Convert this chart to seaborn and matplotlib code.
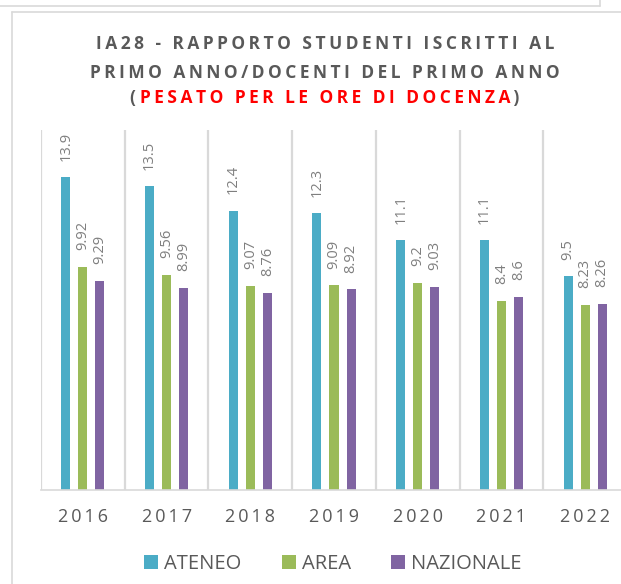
import numpy as np
import seaborn as sns
import matplotlib.pyplot as plt
import pandas as pd
from matplotlib.lines import Line2D

# data
years = ["2016", "2017", "2018", "2019", "2020", "2021", "2022"]
series = ["ATENEO", "AREA", "NAZIONALE"]
ateneo = [13.9, 13.5, 12.4, 12.3, 11.1, 11.1, 9.5]
area = [9.92, 9.56, 9.07, 9.09, 9.2, 8.4, 8.23]
nazionale = [9.29, 8.99, 8.76, 8.92, 9.03, 8.6, 8.26]

data = pd.DataFrame({
    "Anno": years * 3,
    "Valore": ateneo + area + nazionale,
    "Serie": ["ATENEO"] * 7 + ["AREA"] * 7 + ["NAZIONALE"] * 7,
})

colors = ["#4BACC6", "#9BBB59", "#8064A2"]
GRAY = "#595959"
LINE = "#d9d9d9"
TS = "\u2009"  # thin space used as letter spacing


def spaced(s):
    return TS.join(s)


sns.set_style("white")
plt.rcParams["font.family"] = ["Open Sans", "DejaVu Sans"]

W, H = 621, 584
fig = plt.figure(figsize=(W / 100, H / 100), dpi=100)
ax = fig.add_axes([41 / W, 1 - 490 / H, 586 / W, 360 / H])

sns.barplot(data=data, x="Anno", y="Valore", hue="Serie", hue_order=series,
            palette=colors, saturation=1, width=0.61, gap=0.47,
            linewidth=0, ax=ax)

for cont in ax.containers:
    ax.bar_label(cont, fmt="%g", rotation=90, padding=12,
                 color="#7f7f7f", fontsize=10.5)

ax.set_xlim(-0.5, 6.5)
ax.set_ylim(0, 16)
ax.set_yticks([])
ax.set_xlabel("")
ax.set_ylabel("")
for i in range(len(years) + 1):
    ax.axvline(i - 0.5, color=LINE, lw=1.6, zorder=0)
for sp in ["top", "right", "left"]:
    ax.spines[sp].set_visible(False)
ax.spines["bottom"].set_color(LINE)
ax.spines["bottom"].set_linewidth(1.2)
ax.set_xticks(range(len(years)))
ax.set_xticklabels([spaced(y) for y in years], fontsize=13, color=GRAY)
ax.tick_params(axis="x", length=0, pad=13)

# legend at the bottom
handles, labels = ax.get_legend_handles_labels()
ax.get_legend().remove()
fig.legend(handles, labels, loc="center", bbox_to_anchor=(333 / W, 1 - 564 / H),
           ncol=3, frameon=False, fontsize=14.5, labelcolor=GRAY,
           handlelength=0.7, handleheight=0.7, handletextpad=0.3,
           columnspacing=2.0)

# title, three lines, the last one partly red
cx = 325 / W
fig.text(cx, 1 - 44 / H, spaced("IA28 - RAPPORTO STUDENTI ISCRITTI AL"),
         ha="center", va="center", fontsize=12.5, fontweight="bold", color=GRAY)
fig.text(cx, 1 - 73 / H, spaced("PRIMO ANNO/DOCENTI DEL PRIMO ANNO"),
         ha="center", va="center", fontsize=12.5, fontweight="bold", color=GRAY)

parts = [("(" + TS, GRAY), (spaced("PESATO PER LE ORE DI DOCENZA"), "#ff0000"), (TS + ")", GRAY)]
texts = [fig.text(0, 1 - 98 / H, s, ha="left", va="center", fontsize=12.5,
                  fontweight="bold", color=c) for s, c in parts]
fig.canvas.draw()
r = fig.canvas.get_renderer()
widths = [t.get_window_extent(r).width / W for t in texts]
x = cx - sum(widths) / 2
for t, w in zip(texts, widths):
    t.set_x(x)
    x += w

# frame lines of the chart box and the one above it
fig.add_artist(Line2D([0, 600 / W], [1 - 6 / H, 1 - 6 / H], color=LINE, lw=1.2))
fig.add_artist(Line2D([600 / W, 600 / W], [1 - 6 / H, 1], color=LINE, lw=1.2))
fig.add_artist(Line2D([12 / W, 1], [1 - 12 / H, 1 - 12 / H], color=LINE, lw=1.2))
fig.add_artist(Line2D([12 / W, 12 / W], [0, 1 - 12 / H], color=LINE, lw=1.2))

fig.savefig("out.png", dpi=100)
